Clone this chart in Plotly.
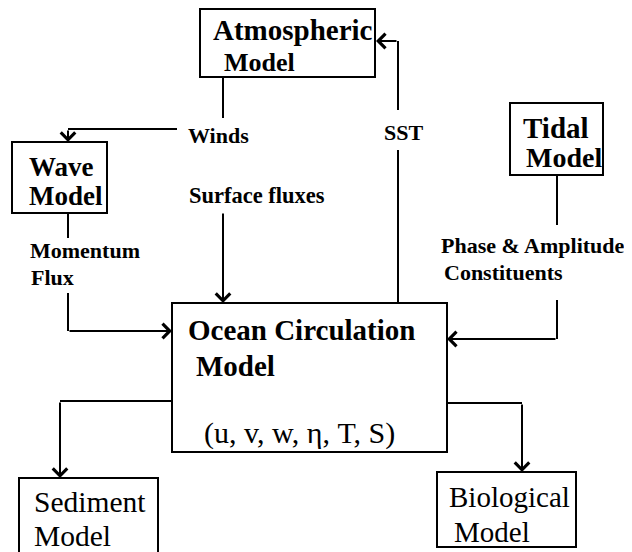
import plotly.graph_objects as go

# ---- diagram data (pixel-space coordinates, y grows downward) ----
box_names = ["Atmospheric", "Wave", "Tidal", "Ocean", "Sediment", "Biological"]
box_x0 = [200, 12, 510, 172, 19, 437]
box_x1 = [375, 107, 603, 447, 158, 576]
box_y0 = [9, 142, 103, 303, 478, 472]
box_y1 = [77, 213, 175, 452, 575, 547]

# text items: label, left x, centre y, size, bold
text_labels = ["Atmospheric", "Model", "Wave", "Model", "Tidal", "Model",
               "Ocean Circulation", "Model", "(u, v, w, η, T, S)",
               "Sediment", "Model", "Biological", "Model",
               "Winds", "Surface fluxes", "SST", "Momentum", "Flux",
               "Phase & Amplitude", "Constituents"]
text_x = [211, 222, 27, 27, 521, 524,
          186, 194, 202,
          32, 32, 447, 452,
          186, 187, 382, 28, 29,
          439, 442]
text_y = [30, 62, 167, 196, 128, 157,
          330, 366, 433,
          502, 536, 497, 532,
          135, 195, 132, 250, 277,
          245, 272]
text_size = [29, 26, 27, 27, 29, 28,
             29, 29, 30,
             29.5, 29.5, 29, 29,
             22, 22.5, 22, 22, 22,
             22, 22]
text_bold = [True] * 8 + [False] * 5 + [True] * 7

# plain connector polylines (no head)
lines = [
    [(223, 77), (223, 118)],                 # Atmos -> Winds
    [(177, 129), (68, 129)],                 # Winds -> Wave (horizontal part)
    [(398, 303), (398, 150)],                # Ocean -> SST
    [(398, 110), (398, 41)],                 # SST -> Atmos (vertical part)
    [(68, 213), (68, 238)],                  # Wave -> Momentum
    [(68, 293), (68, 331)],                  # Flux -> Ocean (vertical part)
    [(557, 175), (557, 225)],                # Tidal -> Phase
    [(557, 300), (557, 339)],                # Constituents -> Ocean (vertical)
    [(172, 401), (60, 401)],                 # Ocean -> Sediment (horizontal)
    [(447, 403), (522, 403)],                # Ocean -> Bio (horizontal)
]
# arrow segments: tail (x, y) -> head (x, y)
arrows = [
    ((68, 129), (68, 142)),     # into Wave
    ((223, 212), (223, 303)),   # Surface fluxes into Ocean
    ((398, 41), (376, 41)),     # SST into Atmos
    ((68, 331), (172, 331)),    # Momentum flux into Ocean
    ((557, 339), (447, 339)),   # Tidal into Ocean
    ((60, 401), (60, 478)),     # into Sediment
    ((522, 403), (522, 472)),   # into Biological
]

LW = 2
FONT = "Liberation Serif"
PAGE_OFFSET = 8  # default body margin of the html page

fig = go.Figure()
shapes = []
for x0, x1, y0, y1 in zip(box_x0, box_x1, box_y0, box_y1):
    shapes.append(dict(type="rect", xref="x", yref="y", x0=x0, x1=x1, y0=y0, y1=y1,
                       line=dict(color="black", width=LW), fillcolor="rgba(0,0,0,0)"))
for pts in lines:
    path = "M " + " L ".join(f"{px},{py}" for px, py in pts)
    shapes.append(dict(type="path", xref="x", yref="y", path=path,
                       line=dict(color="black", width=LW)))

annotations = []
for (tx, ty), (hx, hy) in arrows:
    annotations.append(dict(x=hx, y=hy, ax=tx, ay=ty, xref="x", yref="y",
                            axref="x", ayref="y", text="", showarrow=True,
                            arrowhead=4, arrowsize=1.4, arrowwidth=LW,
                            arrowcolor="black", standoff=0, startstandoff=0))
for lab, tx, ty, ts, tb in zip(text_labels, text_x, text_y, text_size, text_bold):
    annotations.append(dict(x=tx, y=ty, xref="x", yref="y", text=f"<b>{lab}</b>" if tb else lab,
                            showarrow=False, xanchor="left", yanchor="middle",
                            font=dict(family=FONT, size=ts, color="black")))

W, H = 632, 552
fig.update_layout(
    width=W - PAGE_OFFSET, height=H - PAGE_OFFSET,
    margin=dict(l=0, r=0, t=0, b=0),
    paper_bgcolor="white", plot_bgcolor="white",
    xaxis=dict(range=[PAGE_OFFSET, W], visible=False, fixedrange=True),
    yaxis=dict(range=[H, PAGE_OFFSET], visible=False, fixedrange=True),
    shapes=shapes, annotations=annotations, showlegend=False,
)
fig.write_html("out.html")
